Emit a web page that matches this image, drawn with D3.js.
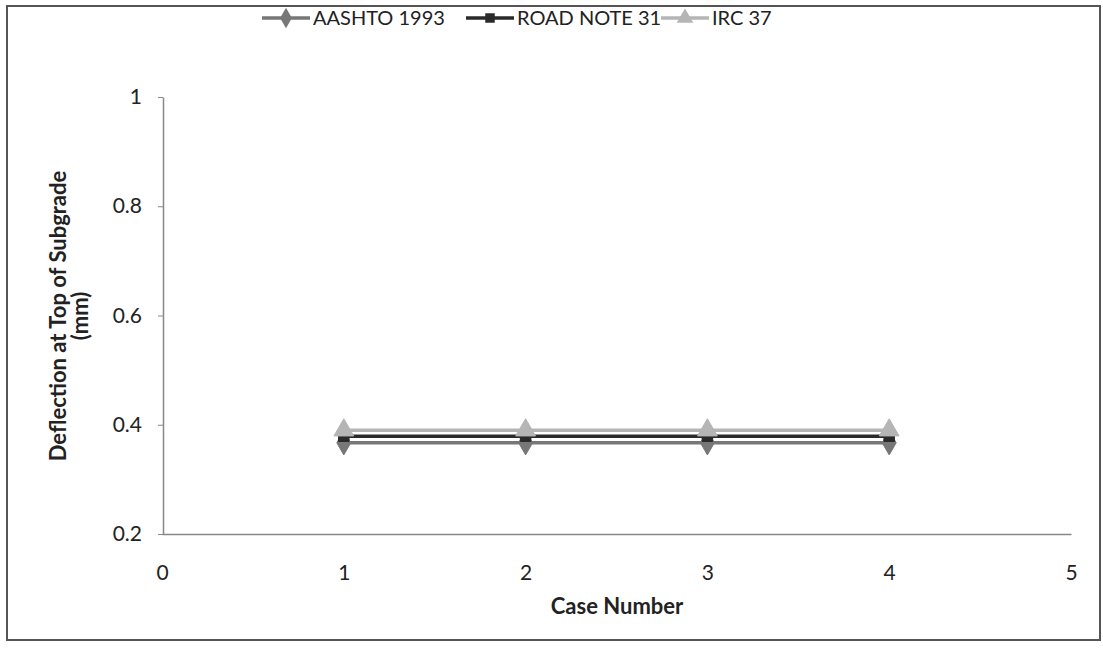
<!DOCTYPE html>
<html><head><meta charset="utf-8">
<script src="https://cdn.jsdelivr.net/npm/d3@7"></script>
<style>body{margin:0;background:#fff;font-family:Lato,"Open Sans",sans-serif;}</style>
</head><body><svg id="c" width="1103" height="649"></svg>
<script>
const cases = [1, 2, 3, 4];
const aashto = [0.367, 0.367, 0.367, 0.367];
const roadNote = [0.379, 0.379, 0.379, 0.379];
const irc = [0.39, 0.39, 0.39, 0.39];
const seriesNames = ["AASHTO 1993", "ROAD NOTE 31", "IRC 37"];
const xTicks = [0, 1, 2, 3, 4, 5];
const yTicks = [0.2, 0.4, 0.6, 0.8, 1];

const svg = d3.select("#c");
svg.append("rect").attr("x",7).attr("y",6).attr("width",1093).attr("height",634)
  .attr("fill","#fff").attr("stroke","#555").attr("stroke-width",2);

const x = d3.scaleLinear().domain([0,5]).range([162,1071]);
const y = d3.scaleLinear().domain([0.2,1]).range([534,97]);

const xAxis = svg.append("g").attr("transform","translate(0,534)")
  .call(d3.axisBottom(x).tickValues(xTicks).tickSize(0).tickPadding(31).tickFormat(d3.format("d")));
xAxis.select(".domain").attr("stroke","#888").attr("stroke-width",1.5);
xAxis.selectAll("text").attr("font-size",21).attr("fill","#222").attr("font-family","Lato,sans-serif");

const yAxis = svg.append("g").attr("transform","translate(163,0)")
  .call(d3.axisLeft(y).tickValues(yTicks).tickSize(5).tickPadding(16).tickFormat(d => d===1?"1":d3.format(".1f")(d)).tickSizeOuter(0));
yAxis.select(".domain").attr("stroke","#888").attr("stroke-width",1.5);
yAxis.selectAll(".tick line").attr("stroke","#888");
yAxis.selectAll("text").attr("font-size",21).attr("fill","#222").attr("font-family","Lato,sans-serif");

const series = [
  {name: seriesNames[0], vals: aashto, color:"#777", marker:"diamond"},
  {name: seriesNames[1], vals: roadNote, color:"#2a2a2a", marker:"square"},
  {name: seriesNames[2], vals: irc, color:"#b5b5b5", marker:"triangle"}
];
const symMap = {diamond:d3.symbolDiamond, square:d3.symbolSquare, triangle:d3.symbolTriangle};
const line = d3.line().x(d=>x(d[0])).y(d=>y(d[1]));

series.forEach(s => {
  const pts = cases.map((c,i)=>[c, s.vals[i]]);
  svg.append("path").datum(pts).attr("d",line).attr("fill","none")
    .attr("stroke",s.color).attr("stroke-width",3.5);
});
series.forEach(s => {
  const pts = cases.map((c,i)=>[c, s.vals[i]]);
  svg.selectAll(null).data(pts).enter().append("path")
    .attr("d", d3.symbol().type(symMap[s.marker]).size(s.marker==="square"?110:170))
    .attr("transform", d=>`translate(${x(d[0])},${y(d[1])})`)
    .attr("fill", s.color).attr("stroke", s.color);
});

// legend
const legX = [262, 466, 661];
series.forEach((s,i) => {
  const g = svg.append("g").attr("transform",`translate(${legX[i]},18)`);
  g.append("line").attr("x1",0).attr("x2",48).attr("y1",0).attr("y2",0)
    .attr("stroke",s.color).attr("stroke-width",3.5);
  g.append("path").attr("d", d3.symbol().type(symMap[s.marker]).size(s.marker==="square"?90:120))
    .attr("transform","translate(24,0)").attr("fill",s.color);
  g.append("text").attr("x",51).attr("y",7).attr("font-size",20).attr("fill","#222").text(s.name);
});

// axis titles
svg.append("text").attr("x",617).attr("y",614).attr("text-anchor","middle")
  .attr("font-size",22).attr("font-weight","bold").attr("fill","#222").text("Case Number");
const yt = svg.append("text").attr("transform","translate(0,316) rotate(-90)")
  .attr("text-anchor","middle").attr("font-size",22).attr("font-weight","bold").attr("fill","#222");
yt.append("tspan").attr("x",0).attr("y",66).text("Deflection at Top of Subgrade");
yt.append("tspan").attr("x",0).attr("y",88).text("(mm)");
</script></body></html>
